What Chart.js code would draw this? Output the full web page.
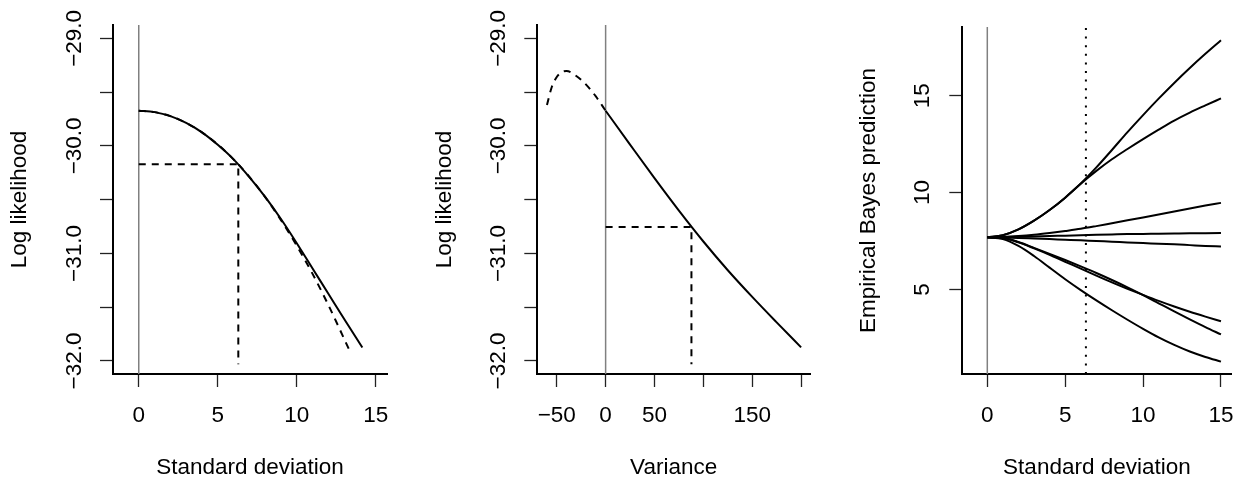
<!DOCTYPE html>
<html>
<head>
<meta charset="utf-8">
<script src="https://cdn.jsdelivr.net/npm/chart.js@4.4.1/dist/chart.umd.min.js"></script>
<style>
body { margin: 0; background: #fff; }
#wrap { position: relative; width: 1249px; height: 481px; }
canvas { position: absolute; top: 0; }
</style>
</head>
<body>
<div id="wrap">
<canvas id="c1" width="416" height="481" style="left:0px"></canvas>
<canvas id="c2" width="416" height="481" style="left:416px"></canvas>
<canvas id="c3" width="417" height="481" style="left:832px"></canvas>
</div>
<script>
// panel 1: log likelihood vs standard deviation
const sdGrid = [0, 1, 2, 3, 4, 5, 6, 7, 8, 9, 10, 11, 12, 13, 14.15];
const llExact = [-29.673, -29.686, -29.723, -29.786, -29.874, -29.99, -30.125, -30.29, -30.475, -30.68, -30.905, -31.14, -31.375, -31.61, -31.875];
const sdApproxGrid = [0, 1, 2, 3, 4, 5, 6, 7, 8, 9, 10, 11, 12, 13.3];
const llApprox = [-29.673, -29.686, -29.723, -29.786, -29.874, -29.987, -30.125, -30.288, -30.476, -30.69, -30.928, -31.19, -31.48, -31.89];
const guide1X = [0, 6.3, 6.3];
const guide1Y = [-30.17, -30.17, -32.03];

// panel 2: log likelihood vs variance
const varDashX = [-60, -55, -50, -45, -40, -30, -20, -10, 0];
const varDashY = [-29.62, -29.45, -29.36, -29.315, -29.304, -29.35, -29.43, -29.54, -29.673];
const varSolidX = [0, 25, 50, 75, 100, 125, 150, 175, 200];
const varSolidY = [-29.673, -29.988, -30.3, -30.602, -30.889, -31.156, -31.404, -31.641, -31.873];
const guide2X = [0, 87.8, 87.8];
const guide2Y = [-30.754, -30.754, -32.03];

// panel 3: empirical Bayes predictions vs standard deviation
const ebGrid = [0, 1, 2, 3, 4, 5, 6, 7, 8, 9, 10, 11, 12, 13, 14, 15];
const eb1 = [7.69, 7.8, 8.1, 8.55, 9.1, 9.74, 10.47, 11.3, 12.2, 13.12, 14.0, 14.85, 15.66, 16.43, 17.16, 17.86];
const eb2 = [7.69, 7.8, 8.1, 8.55, 9.1, 9.74, 10.46, 11.12, 11.72, 12.25, 12.76, 13.25, 13.72, 14.13, 14.5, 14.86];
const eb3 = [7.69, 7.71, 7.76, 7.83, 7.92, 8.02, 8.13, 8.27, 8.42, 8.57, 8.72, 8.87, 9.03, 9.18, 9.33, 9.47];
const eb4 = [7.69, 7.7, 7.72, 7.74, 7.76, 7.78, 7.8, 7.82, 7.84, 7.86, 7.87, 7.88, 7.89, 7.9, 7.905, 7.91];
const eb5 = [7.69, 7.68, 7.66, 7.63, 7.6, 7.57, 7.54, 7.5, 7.47, 7.43, 7.4, 7.36, 7.33, 7.29, 7.25, 7.22];
const eb6 = [7.69, 7.66, 7.43, 7.12, 6.79, 6.43, 6.08, 5.72, 5.37, 5.04, 4.72, 4.41, 4.12, 3.85, 3.6, 3.36];
const eb7 = [7.69, 7.66, 7.45, 7.15, 6.84, 6.52, 6.19, 5.85, 5.49, 5.11, 4.71, 4.29, 3.87, 3.46, 3.06, 2.68];
const eb8 = [7.69, 7.6, 7.25, 6.73, 6.13, 5.53, 4.97, 4.44, 3.93, 3.44, 2.97, 2.53, 2.14, 1.8, 1.52, 1.28];
const sdHat = 6.33;

// ticks and labels
const sdTicks = [0, 5, 10, 15];
const sdTickLabels = ['0', '5', '10', '15'];
const varTicks = [-50, 0, 50, 100, 150, 200];
const varTickLabels = ['\u221250', '0', '50', '', '150', ''];
const llTicks = [-32, -31.5, -31, -30.5, -30, -29.5, -29];
const llTickLabels = ['\u221232.0', '', '\u221231.0', '', '\u221230.0', '', '\u221229.0'];
const ebTicks = [5, 10, 15];
const ebTickLabels = ['5', '10', '15'];

const FONT = { family: 'Liberation Sans, Arial, sans-serif', size: 22.5 };

function toPoints(xs, ys) {
  return xs.map((x, i) => ({ x: x, y: ys[i] }));
}

function curve(xs, ys, dash) {
  return {
    data: toPoints(xs, ys), showLine: true, borderColor: '#000', borderWidth: 2,
    borderDash: dash || [], pointRadius: 0, cubicInterpolationMode: 'monotone'
  };
}

function segs(xs, ys, dash, color, width) {
  return {
    data: toPoints(xs, ys), showLine: true, borderColor: color || '#000', borderWidth: width || 2,
    borderDash: dash || [], pointRadius: 0, tension: 0
  };
}

function makePanel(id, o) {
  const xLab = (v) => o.xLabels[o.xTicks.indexOf(v)];
  const yLab = (v) => o.yLabels[o.yTicks.indexOf(v)];
  new Chart(document.getElementById(id), {
    type: 'scatter',
    data: { datasets: o.datasets },
    options: {
      responsive: false, animation: false, events: [],
      layout: { autoPadding: false, padding: { left: 0, top: 25, right: o.padRight, bottom: 0 } },
      plugins: { legend: { display: false }, tooltip: { enabled: false } },
      scales: {
        x: {
          type: 'linear', position: 'bottom', min: o.xMin, max: o.xMax,
          afterBuildTicks: (s) => { s.ticks = o.xTicks.map(v => ({ value: v })); },
          afterFit: (s) => { s.height = 107; },
          ticks: { callback: xLab, font: FONT, color: '#000', padding: 15, minRotation: 0, maxRotation: 0, autoSkip: false },
          grid: { drawOnChartArea: false, tickLength: 13, tickColor: '#222', tickWidth: 1.3 },
          border: { color: '#000', width: 2 },
          title: { display: true, text: o.xTitle, font: FONT, color: '#000', padding: { top: 0, bottom: 0 } }
        },
        y: {
          type: 'linear', position: 'left', min: o.yMin, max: o.yMax,
          afterBuildTicks: (s) => { s.ticks = o.yTicks.map(v => ({ value: v })); },
          afterFit: (s) => { s.width = o.left; },
          ticks: { callback: yLab, font: FONT, color: '#000', padding: o.yPad, minRotation: 90, maxRotation: 90, crossAlign: 'center', autoSkip: false },
          grid: { drawOnChartArea: false, tickLength: 13, tickColor: '#222', tickWidth: 1.3 },
          border: { color: '#000', width: 2 },
          title: { display: true, text: o.yTitle, font: FONT, color: '#000', padding: { top: o.titlePad, bottom: 0 } }
        }
      }
    }
  });
}

const ll1Min = -32.121, ll1Max = -28.876;

makePanel('c1', {
  left: 113, padRight: 29, xMin: -1.63, xMax: 15.71, yMin: ll1Min, yMax: ll1Max,
  xTicks: sdTicks, xLabels: sdTickLabels, yTicks: llTicks, yLabels: llTickLabels,
  xTitle: 'Standard deviation', yTitle: 'Log likelihood', yPad: -3, titlePad: 6.4,
  datasets: [
    curve(sdGrid, llExact),
    curve(sdApproxGrid, llApprox, [7, 6]),
    segs(guide1X, guide1Y, [7, 6]),
    segs([0, 0], [ll1Min, ll1Max], [], '#808080', 1.5)
  ]
});

makePanel('c2', {
  left: 121.3, padRight: 22, xMin: -69.9, xMax: 209.1, yMin: ll1Min, yMax: ll1Max,
  xTicks: varTicks, xLabels: varTickLabels, yTicks: llTicks, yLabels: llTickLabels,
  xTitle: 'Variance', yTitle: 'Log likelihood', yPad: -3, titlePad: 15.4,
  datasets: [
    curve(varSolidX, varSolidY),
    curve(varDashX, varDashY, [7, 6]),
    segs(guide2X, guide2Y, [7, 6]),
    segs([0, 0], [ll1Min, ll1Max], [], '#808080', 1.5)
  ]
});

const eb3Min = 0.64, eb3Max = 18.54;

makePanel('c3', {
  left: 130.3, padRight: 13.3, xMin: -1.605, xMax: 15.68, yMin: eb3Min, yMax: eb3Max,
  xTicks: sdTicks, xLabels: sdTickLabels, yTicks: ebTicks, yLabels: ebTickLabels,
  xTitle: 'Standard deviation', yTitle: 'Empirical Bayes prediction', yPad: 13.6, titlePad: 23.3,
  datasets: [
    curve(ebGrid, eb1), curve(ebGrid, eb2), curve(ebGrid, eb3), curve(ebGrid, eb4),
    curve(ebGrid, eb5), curve(ebGrid, eb6), curve(ebGrid, eb7), curve(ebGrid, eb8),
    segs([sdHat, sdHat], [eb3Min, eb3Max], [2, 6.6]),
    segs([0, 0], [eb3Min, eb3Max], [], '#808080', 1.5)
  ]
});
</script>
</body>
</html>
